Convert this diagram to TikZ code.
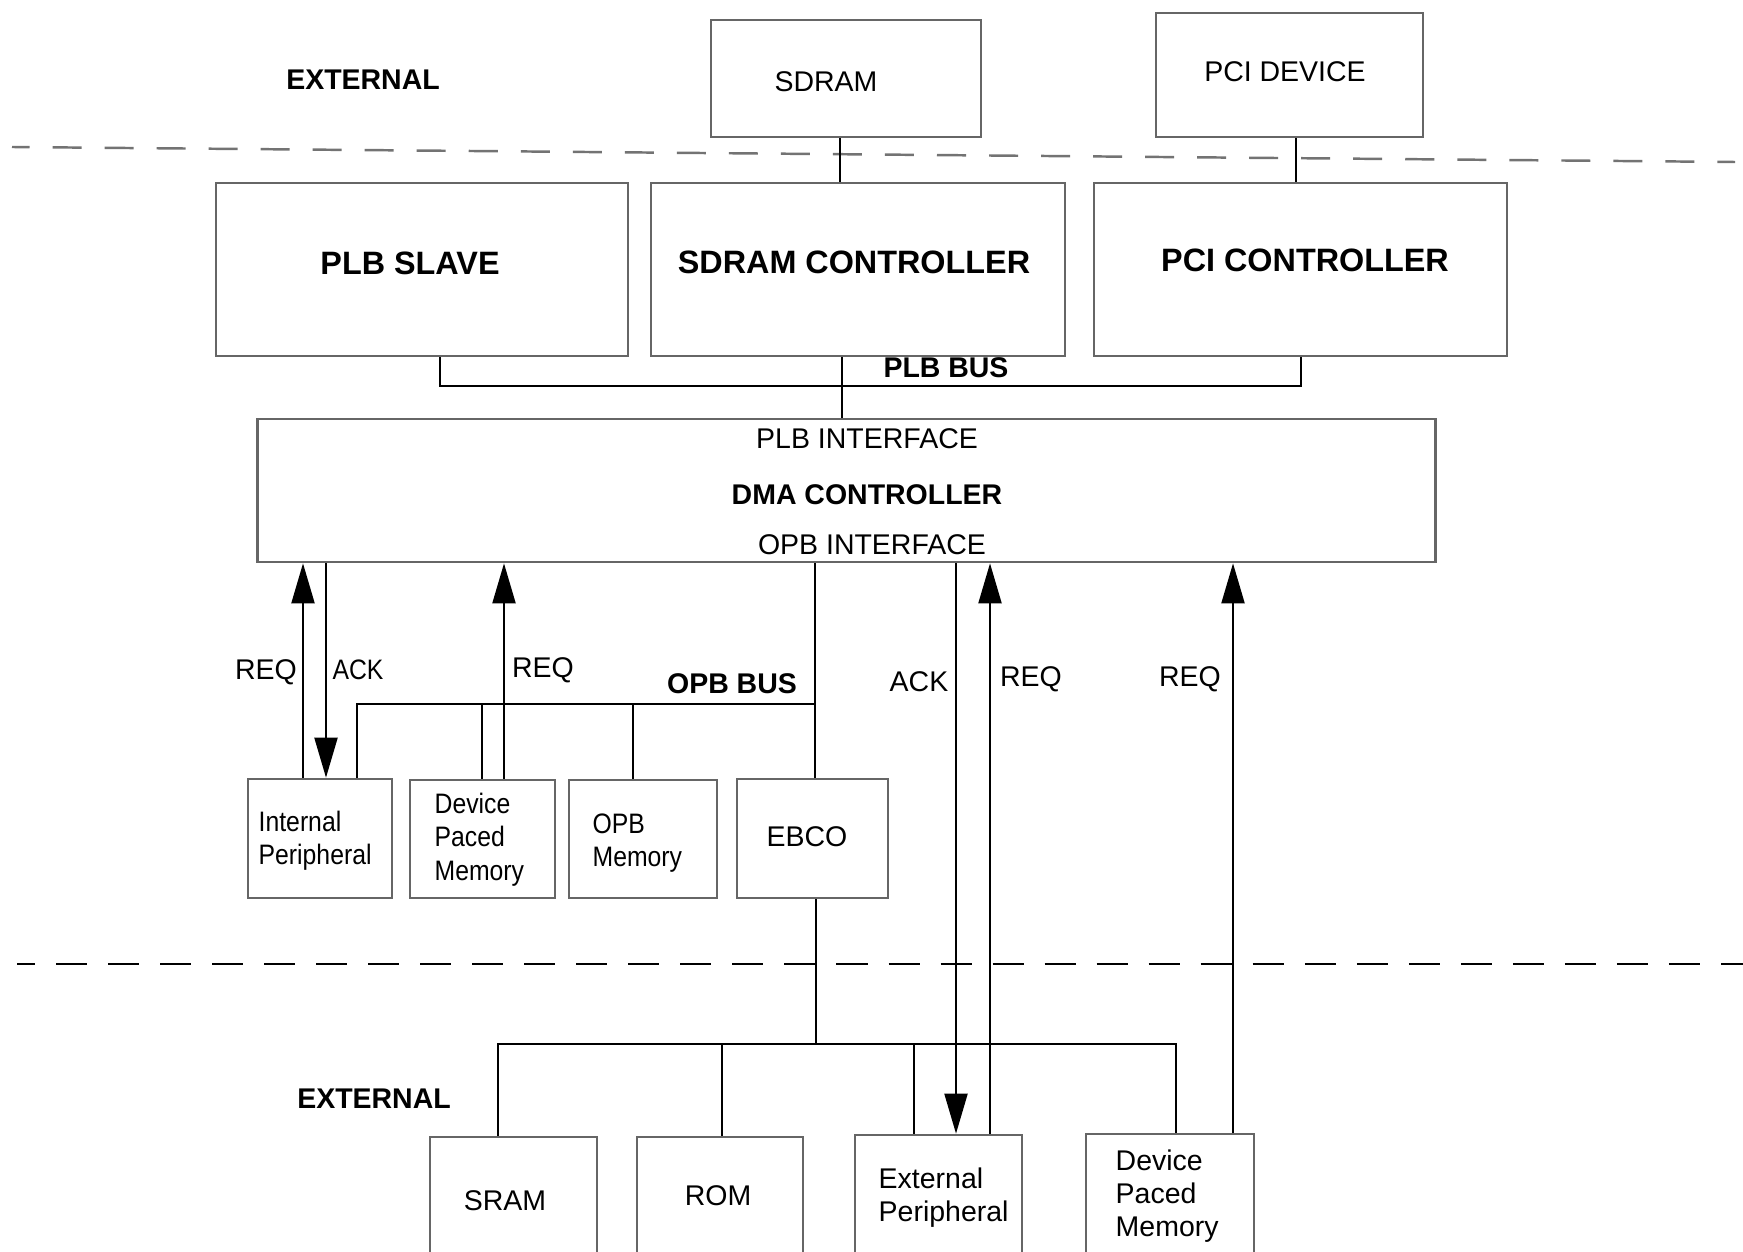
\documentclass[tikz,border=0pt]{standalone}
\usepackage{fontspec}
\setmainfont{Liberation Sans}
\newfontfamily\narrowsans[FakeStretch=0.88]{Liberation Sans}
\usetikzlibrary{arrows.meta}

\begin{document}
\begin{tikzpicture}[x=0.01cm,y=-0.01cm,
  box/.style={draw=black!60, line width=0.75pt, inner sep=0pt},
  wire/.style={draw=black, line width=0.6pt},
  sig/.style={wire, -{Triangle[length=0.40cm,width=0.23cm]}},
  txt/.style={inner sep=0pt, font=\fontsize{8.1}{9.7}\selectfont},
  btxt/.style={inner sep=0pt, font=\fontsize{8.1}{9.7}\selectfont\bfseries},
  htxt/.style={inner sep=0pt, font=\fontsize{9.2}{11}\selectfont\bfseries},
  ntxt/.style={inner sep=0pt, align=left, anchor=west, font=\fontsize{8}{9.5}\selectfont\narrowsans},
  mtxt/.style={inner sep=0pt, align=left, anchor=west, font=\fontsize{8.1}{9.4}\selectfont},
]
\useasboundingbox (0,0) rectangle (1743,1252);
\clip (0,0) rectangle (1743,1252);

% zone separators
\coordinate (dashTL) at (12,147);
\coordinate (dashTR) at (1735,162);
\draw[black!55, line width=0.7pt, dash pattern=on 0.29cm off 0.23cm, dash phase=0.115cm] (dashTL) -- (dashTR);
\coordinate (dashBL) at (17,964);
\coordinate (dashBR) at (1743,964);
\draw[black, line width=0.7pt, dash pattern=on 0.31cm off 0.21cm, dash phase=0.13cm] (dashBL) -- (dashBR);

% external devices on top
\node[box, minimum width=2.70cm, minimum height=1.17cm] (sdram) at (846,78.5) {};
\node[box, minimum width=2.67cm, minimum height=1.24cm] (pcidev) at (1289.5,75) {};
\node[txt] (sdram-t) at (826,82) {SDRAM};
\node[txt] (pcidev-t) at (1285,72) {PCI DEVICE};
\node[btxt] (ext-top) at (363,80) {EXTERNAL};

% PLB side blocks
\node[box, minimum width=4.12cm, minimum height=1.73cm] (plbslave) at (422,269.5) {};
\node[box, minimum width=4.14cm, minimum height=1.73cm] (sdramctl) at (858,269.5) {};
\node[box, minimum width=4.13cm, minimum height=1.73cm] (pcictl) at (1300.5,269.5) {};
\node[htxt] (plbslave-t) at (410,263) {PLB SLAVE};
\node[htxt] (sdramctl-t) at (854,262) {SDRAM CONTROLLER};
\node[htxt] (pcictl-t) at (1305,260) {PCI CONTROLLER};

% DMA controller
\node[box, minimum width=11.77cm, minimum height=1.43cm] (dma) at (846.5,490.5) {};
\node[txt] (plbif) at (867,439) {PLB INTERFACE};
\node[btxt] (dma-t) at (867,495) {DMA CONTROLLER};
\node[txt] (opbif) at (872,545) {OPB INTERFACE};

% OPB side blocks
\node[box, minimum width=1.44cm, minimum height=1.19cm] (intper) at (320,838.5) {};
\node[box, minimum width=1.45cm, minimum height=1.18cm] (dpm) at (482.5,839) {};
\node[box, minimum width=1.48cm, minimum height=1.18cm] (opbmem) at (643,839) {};
\node[box, minimum width=1.51cm, minimum height=1.19cm] (ebco) at (812.5,838.5) {};
\node[ntxt] (intper-t) at (258,841) {Internal\\Peripheral};
\node[ntxt] (dpm-t) at (434,839.5) {Device\\Paced\\Memory};
\node[ntxt] (opbmem-t) at (592,843) {OPB\\Memory};
\node[txt] (ebco-t) at (807,837) {EBCO};

% external bus devices
\node[box, minimum width=1.67cm, minimum height=1.28cm] (sram) at (513.5,1201) {};
\node[box, minimum width=1.66cm, minimum height=1.28cm] (rom) at (720,1201) {};
\node[box, minimum width=1.67cm, minimum height=1.30cm] (extper) at (938.5,1200) {};
\node[box, minimum width=1.68cm, minimum height=1.31cm] (extdpm) at (1170,1199.5) {};
\node[txt] (sram-t) at (505,1201) {SRAM};
\node[txt] (rom-t) at (718,1196) {ROM};
\node[mtxt] (extper-t) at (878,1198) {External\\Peripheral};
\node[mtxt] (extdpm-t) at (1115,1196) {Device\\Paced\\Memory};
\node[btxt] (ext-bot) at (374,1099) {EXTERNAL};

% PLB connections
\coordinate (xSd) at (840,0);
\coordinate (xPci) at (1296,0);
\draw[wire] (sdram.south -| xSd) -- (sdramctl.north -| xSd);
\draw[wire] (pcidev.south -| xPci) -- (pcictl.north -| xPci);
\coordinate (plbL) at (440,386);
\coordinate (plbR) at (1301,386);
\coordinate (xPlb) at (842,0);
\draw[wire] (plbslave.south -| plbL) -- (plbL) -- (plbR) -- (pcictl.south -| plbR);
\draw[wire] (sdramctl.south -| xPlb) -- (dma.north -| xPlb);
\node[btxt] (plbbus-t) at (946,368) {PLB BUS};

% OPB bus
\coordinate (opbL) at (357,704);
\coordinate (opbR) at (815,704);
\coordinate (opbDpm) at (482,704);
\coordinate (opbMem) at (633,704);
\draw[wire] (dma.south -| opbR) -- (ebco.north -| opbR);
\draw[wire] (intper.north -| opbL) -- (opbL) -- (opbR);
\draw[wire] (opbDpm) -- (dpm.north -| opbDpm);
\draw[wire] (opbMem) -- (opbmem.north -| opbMem);
\node[btxt] (opbbus-t) at (732,684) {OPB BUS};

% external bus behind the EBC
\coordinate (ebM) at (816,1044);
\coordinate (ebL) at (498,1044);
\coordinate (ebR) at (1176,1044);
\coordinate (ebRom) at (722,1044);
\coordinate (ebEp) at (914,1044);
\draw[wire] (ebco.south -| ebM) -- (ebM);
\draw[wire] (sram.north -| ebL) -- (ebL) -- (ebR) -- (extdpm.north -| ebR);
\draw[wire] (ebRom) -- (rom.north -| ebRom);
\draw[wire] (ebEp) -- (extper.north -| ebEp);

% request / acknowledge handshakes
\coordinate (s1) at (303,0);
\coordinate (s2) at (326,0);
\coordinate (s3) at (504,0);
\coordinate (s4) at (956,0);
\coordinate (s5) at (990,0);
\coordinate (s6) at (1233,0);
\draw[sig] (intper.north -| s1) -- (dma.south -| s1);
\draw[sig] (dma.south -| s2) -- (intper.north -| s2);
\draw[sig] (dpm.north -| s3) -- (dma.south -| s3);
\draw[sig] (dma.south -| s4) -- (extper.north -| s4);
\draw[sig] (extper.north -| s5) -- (dma.south -| s5);
\draw[sig] (extdpm.north -| s6) -- (dma.south -| s6);
\node[txt] (req1) at (266,672) {REQ};
\node[ntxt, anchor=center] (ack1) at (358,670) {ACK};
\node[txt] (req2) at (543,670) {REQ};
\node[txt] (ack2) at (919,682) {ACK};
\node[txt] (req3) at (1031,679) {REQ};
\node[txt] (req4) at (1190,679) {REQ};
\end{tikzpicture}
\end{document}
